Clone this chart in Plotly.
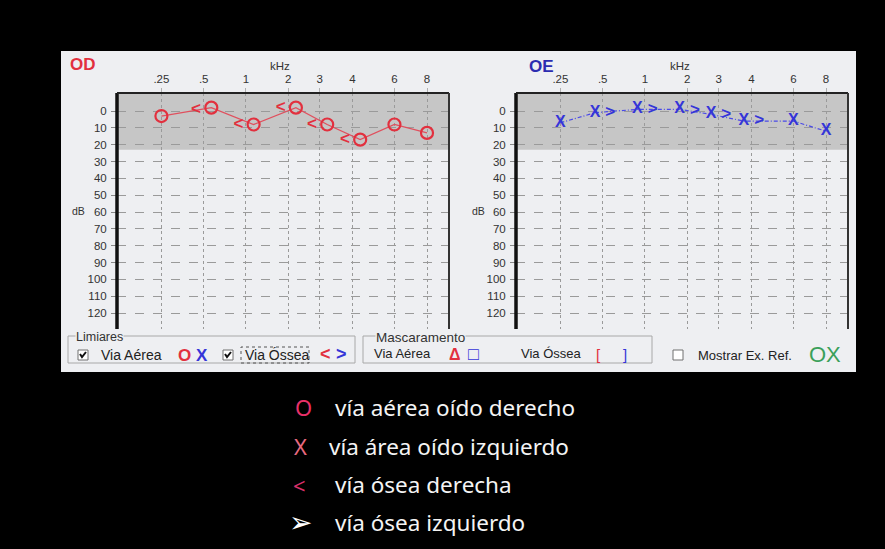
import plotly.graph_objects as go

# ---------------- data ----------------
freq_labels = [".25", ".5", "1", "2", "3", "4", "6", "8"]
freq_khz = [0.25, 0.5, 1, 2, 3, 4, 6, 8]
db_ticks = [0, 10, 20, 30, 40, 50, 60, 70, 80, 90, 100, 110, 120]

# right ear (OD)
od_air = [3, -2, 8, -2, 8, 17, 8, 13]          # O
od_bone = [None, -1, 8, -2, 8, 17, None, None]  # <
# left ear (OE)
oe_air = [7, 1, -1, -1, 2, 6, 6, 12]            # X
oe_bone = [None, 1, -1, 0, 2, 6, None, None]    # >

legend_symbols = ["O", "X", "<", "\u27A2"]
legend_texts = ["vía aérea oído derecho", "vía área oído izquierdo",
                "vía ósea derecha", "vía ósea izquierdo"]

# ---------------- audiometer frequency scale ----------------
# position of each frequency on the audiogram's horizontal scale (octave units, as drawn by the software)
SCALE = {0.25: 0.0, 0.5: 1.0, 1: 2.0, 2: 3.0, 3: 3.74, 4: 4.52, 6: 5.51, 8: 6.28}
SHIFT = 0.18  # side offset when air & bone symbols share a frequency


def fpos(f):
    return SCALE[f]


W, H = 885, 549


def PX(x):
    return x / W


def PY(y):
    return 1 - y / H


RED = "#e2303e"
BLUE = "#3535d8"
GRID = "#9a9a9a"
PANEL = "#eeeff2"

fig = go.Figure()


def build_series(air, bone, air_shift, bone_shift):
    ax, ay, bx, by = [], [], [], []
    for f, a, b in zip(freq_khz, air, bone):
        both = a is not None and b is not None
        if a is not None:
            ax.append(fpos(f) + (air_shift if both else 0))
            ay.append(a)
        if b is not None:
            bx.append(fpos(f) + (bone_shift if both else 0))
            by.append(b)
    return ax, ay, bx, by


# OD
ax, ay, bx, by = build_series(od_air, od_bone, SHIFT, -SHIFT)
fig.add_trace(go.Scatter(x=ax, y=ay, mode="lines+markers", xaxis="x", yaxis="y",
                         line=dict(color="#e0505e", width=1.3),
                         marker=dict(symbol="circle-open", size=12, color=RED, line=dict(width=2.2, color=RED)),
                         showlegend=False, hoverinfo="skip"))
fig.add_trace(go.Scatter(x=bx, y=by, mode="text", text=["<"] * len(bx), xaxis="x", yaxis="y",
                         textfont=dict(family="Liberation Sans", size=17, color=RED, weight="bold"),
                         textposition="middle center", showlegend=False, hoverinfo="skip"))

# OE
ax, ay, bx, by = build_series(oe_air, oe_bone, -SHIFT, SHIFT)
fig.add_trace(go.Scatter(x=ax, y=ay, mode="lines", xaxis="x2", yaxis="y2",
                         line=dict(color="#4a4ae8", width=1.2, dash="4px,2px,1px,2px"),
                         showlegend=False, hoverinfo="skip"))
fig.add_trace(go.Scatter(x=ax, y=ay, mode="text", text=["X"] * len(ax), xaxis="x2", yaxis="y2",
                         textfont=dict(family="Liberation Sans", size=16, color=BLUE, weight="bold"),
                         textposition="middle center", showlegend=False, hoverinfo="skip"))
fig.add_trace(go.Scatter(x=bx, y=by, mode="text", text=[">"] * len(bx), xaxis="x2", yaxis="y2",
                         textfont=dict(family="Liberation Sans", size=17, color=BLUE, weight="bold"),
                         textposition="middle center", showlegend=False, hoverinfo="skip"))

XR = [-1.05, 6.8]
YR = [129.5, -10.7]
ydom = [PY(329), PY(93)]

xcommon = dict(range=XR, tickmode="array", tickvals=[fpos(f) for f in freq_khz], ticktext=freq_labels,
               side="top", showgrid=True, gridcolor=GRID, griddash="dot", gridwidth=1,
               ticks="outside", ticklen=4, tickcolor="#b0b0b0", ticklabelstandoff=0,
               tickfont=dict(family="Liberation Sans", size=11.5, color="#333333"),
               zeroline=False, showline=False, fixedrange=True)
ycommon = dict(range=YR, tickmode="array", tickvals=db_ticks, showgrid=True, gridcolor=GRID,
               griddash="dash", gridwidth=1, ticks="outside", ticklen=5, tickcolor="#888888",
               ticklabelstandoff=2, tickfont=dict(family="Liberation Sans", size=11.5, color="#333333"),
               zeroline=False, showline=False, fixedrange=True)

fig.update_layout(
    width=W, height=H, margin=dict(l=0, r=0, t=0, b=0),
    paper_bgcolor="black", plot_bgcolor="white",
    xaxis=dict(domain=[PX(117), PX(449)], anchor="y", **xcommon),
    yaxis=dict(domain=ydom, anchor="x", **ycommon),
    xaxis2=dict(domain=[PX(516), PX(848)], anchor="y2", **xcommon),
    yaxis2=dict(domain=ydom, anchor="x2", **ycommon),
)

shapes = []
# screenshot panel
shapes.append(dict(type="rect", xref="paper", yref="paper", x0=PX(61), x1=PX(856), y0=PY(372), y1=PY(51),
                   fillcolor=PANEL, line=dict(width=0), layer="below"))
for xa, ya in (("x", "y"), ("x2", "y2")):
    # gray normal-hearing band
    shapes.append(dict(type="rect", xref=f"{xa} domain", yref=ya, x0=0, x1=1, y0=-10.7, y1=23,
                       fillcolor="#c6c6c6", line=dict(width=0), layer="below"))
    # borders
    shapes.append(dict(type="line", xref=f"{xa} domain", yref=f"{ya} domain", x0=0, x1=0, y0=0, y1=1,
                       line=dict(color="#111111", width=3.5)))
    shapes.append(dict(type="line", xref=f"{xa} domain", yref=f"{ya} domain", x0=0, x1=1, y0=1, y1=1,
                       line=dict(color="#222222", width=2)))
    shapes.append(dict(type="line", xref=f"{xa} domain", yref=f"{ya} domain", x0=1, x1=1, y0=0, y1=1,
                       line=dict(color="#333333", width=2)))

# group boxes
shapes.append(dict(type="rect", xref="paper", yref="paper", x0=PX(68), x1=PX(355), y0=PY(363), y1=PY(336),
                   line=dict(color="#a8a8a8", width=1)))
shapes.append(dict(type="rect", xref="paper", yref="paper", x0=PX(363), x1=PX(652), y0=PY(363), y1=PY(336),
                   line=dict(color="#a8a8a8", width=1)))

# checkboxes
for cx in (78, 223, 673):
    shapes.append(dict(type="rect", xref="paper", yref="paper", x0=PX(cx), x1=PX(cx + 10), y0=PY(360), y1=PY(350),
                       fillcolor="white", line=dict(color="#707070", width=1)))
for cx in (78, 223):
    shapes.append(dict(type="path", xref="paper", yref="paper",
                       path=f"M {PX(cx+2)},{PY(354)} L {PX(cx+4)},{PY(357)} L {PX(cx+8)},{PY(352)}",
                       line=dict(color="#111111", width=2)))
# focus rect around "Via Óssea"
shapes.append(dict(type="rect", xref="paper", yref="paper", x0=PX(241), x1=PX(309), y0=PY(363), y1=PY(347),
                   line=dict(color="#555555", width=1, dash="dot")))

ann = []


def txt(x, y, s, size=11, color="#222222", anchor="left", family="Liberation Sans", bg=None, bold=False):
    d = dict(x=PX(x), y=PY(y), xref="paper", yref="paper", text=s, showarrow=False, xanchor=anchor,
             yanchor="middle", font=dict(family=family, size=size, color=color,
                                         weight="bold" if bold else "normal"))
    if bg:
        d["bgcolor"] = bg
        d["borderpad"] = 0
    ann.append(d)


txt(68, 64, "OD", size=17, color=RED, bold=True)
txt(527, 66, "OE", size=17, color="#2c2cb0", bold=True)
txt(280, 66, "kHz", size=11.5, color="#333333", anchor="center")
txt(680, 66, "kHz", size=11.5, color="#333333", anchor="center")
txt(70, 211, "dB", size=10.5, color="#333333")
txt(470, 211, "dB", size=10.5, color="#333333")

txt(75, 337, "Limiares", size=12.5, color="#333333", bg=PANEL)
txt(99, 355, "Via Aérea", size=14, color="#222222")
txt(184, 355, "O", size=17, color=RED, anchor="center", bold=True)
txt(202, 355, "X", size=17, color=BLUE, anchor="center", bold=True)
txt(243, 355, "Via Óssea", size=14, color="#222222")
txt(325, 354, "<", size=18, color=RED, anchor="center", bold=True)
txt(341, 354, ">", size=18, color=BLUE, anchor="center", bold=True)

txt(375, 337, "Mascaramento", size=13.5, color="#333333", bg=PANEL)
txt(372, 353, "Via Aérea", size=13, color="#222222")
txt(455, 354, "\u0394", size=16, color=RED, anchor="center", bold=True)
txt(473, 354, "\u25a1", size=18, color=BLUE, anchor="center")
txt(519, 353, "Via Óssea", size=13, color="#222222")
txt(598, 354, "[", size=15, color=RED, anchor="center")
txt(625, 354, "]", size=15, color=BLUE, anchor="center")
txt(696, 355, "Mostrar Ex. Ref.", size=13, color="#222222")
txt(825, 354, "OX", size=22, color="#3aa05a", anchor="center")

# bottom explanation on black
sym_colors = ["#e8306a", "#e86a80", "#d8306a", "#ffffff"]
sym_size = [22, 22, 22, 28]
sym_x = [303, 300, 299, 300]
text_x = [333, 327, 333, 333]
rows_y = [407, 446, 485, 522]
for s, t, c, ss, sx, tx, ry in zip(legend_symbols, legend_texts, sym_colors, sym_size, sym_x, text_x, rows_y):
    txt(sx, ry, s, size=ss, color=c, anchor="center", family="Noto Sans" if s != "\u27A2" else "DejaVu Sans")
    txt(tx, ry, t, size=22.5, color="#f4f4f4", family="Noto Sans")

fig.update_layout(shapes=shapes, annotations=ann)
fig.write_html("out.html", post_script="document.body.style.margin='0px';",
               config={"displayModeBar": False})
